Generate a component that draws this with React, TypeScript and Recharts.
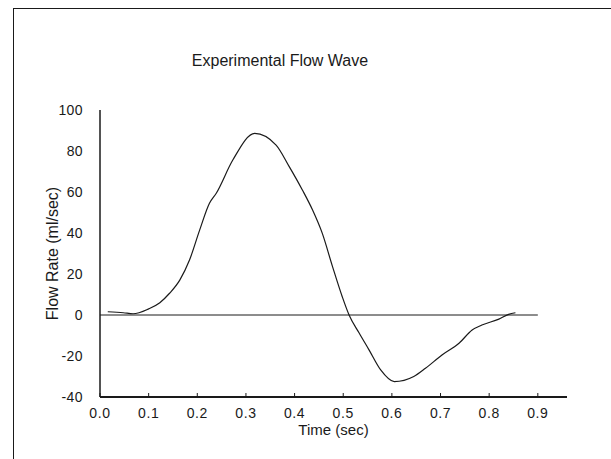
import { Line, LineChart, ReferenceLine, XAxis, YAxis } from 'recharts'

const times = [
  0.016, 0.048, 0.068, 0.1, 0.123, 0.143, 0.164, 0.184, 0.205, 0.225, 0.239,
  0.273, 0.318, 0.362, 0.389, 0.416, 0.437, 0.457, 0.478, 0.498, 0.512, 0.533,
  0.553, 0.577, 0.605, 0.645, 0.669, 0.703, 0.738, 0.765, 0.785, 0.82, 0.84,
  0.854,
]
const flows = [
  1.6, 1.1, 0.6, 3, 6, 10.6, 17, 26.8, 41.5, 54.5, 59.4, 75.6, 88.6, 82.9,
  72.4, 61, 51.2, 39.8, 23.6, 8.9, 0, -8.9, -17, -26.8, -32.5, -30, -26,
  -19.5, -13.8, -7.3, -4.9, -2, 0.3, 1.1,
]
const xTicks = [0, 0.1, 0.2, 0.3, 0.4, 0.5, 0.6, 0.7, 0.8, 0.9]
const yTicks = [-40, -20, 0, 20, 40, 60, 80, 100]

const data = times.map((t, i) => ({ t, flow: flows[i] }))

const font = '"Liberation Sans", Arial, sans-serif'
const ink = '#1a1a1a'

export default function App() {
  return (
    <div
      style={{
        position: 'absolute',
        left: 0,
        top: 0,
        width: 611,
        height: 459,
        background: '#fff',
        fontFamily: font,
      }}
    >
      <div
        style={{
          position: 'absolute',
          left: 13,
          top: 8,
          width: 598,
          height: 451,
          borderLeft: `1.5px solid ${ink}`,
          borderTop: `1.5px solid ${ink}`,
        }}
      />
      <div
        style={{
          position: 'absolute',
          left: 0,
          top: 52,
          width: 560,
          textAlign: 'center',
          fontSize: 16,
          color: ink,
        }}
      >
        Experimental Flow Wave
      </div>
      <LineChart
        width={611}
        height={459}
        data={data}
        margin={{ top: 110, right: 44, bottom: 0, left: 0 }}
        style={{ position: 'absolute', left: 0, top: 0 }}
      >
        <XAxis
          dataKey="t"
          type="number"
          domain={[0, 0.96]}
          ticks={xTicks}
          tickFormatter={(v: number) => v.toFixed(1)}
          height={62}
          axisLine={{ stroke: ink, strokeWidth: 2 }}
          tickLine={{ stroke: ink }}
          tickSize={-4}
          tickMargin={15}
          tick={{ fill: ink, fontSize: 14, fontFamily: font, letterSpacing: 0.6 }}
          label={{
            content: ({ viewBox }: any) => (
              <text
                x={viewBox.x + viewBox.width / 2}
                y={viewBox.y + 38}
                textAnchor="middle"
                fontSize={15}
                fontFamily={font}
                fill={ink}
              >
                Time (sec)
              </text>
            ),
          }}
        />
        <YAxis
          type="number"
          domain={[-40, 100]}
          ticks={yTicks}
          width={100}
          axisLine={{ stroke: ink, strokeWidth: 1.5 }}
          tickLine={false}
          tickSize={6}
          tickMargin={11}
          tick={{ fill: ink, fontSize: 14, fontFamily: font, letterSpacing: 0.4 }}
          label={{
            content: ({ viewBox }: any) => {
              const cx = viewBox.x + 52
              const cy = viewBox.y + viewBox.height / 2
              return (
                <text
                  x={cx}
                  y={cy}
                  transform={`rotate(-90 ${cx} ${cy})`}
                  textAnchor="middle"
                  dominantBaseline="central"
                  fontSize={16}
                  fontFamily={font}
                  fill={ink}
                >
                  Flow Rate (ml/sec)
                </text>
              )
            },
          }}
        />
        <ReferenceLine
          segment={[
            { x: 0, y: 0 },
            { x: 0.9, y: 0 },
          ]}
          stroke={ink}
          strokeWidth={1}
        />
        <Line
          dataKey="flow"
          type="monotone"
          stroke={ink}
          strokeWidth={1.2}
          dot={false}
          isAnimationActive={false}
        />
      </LineChart>
    </div>
  )
}
